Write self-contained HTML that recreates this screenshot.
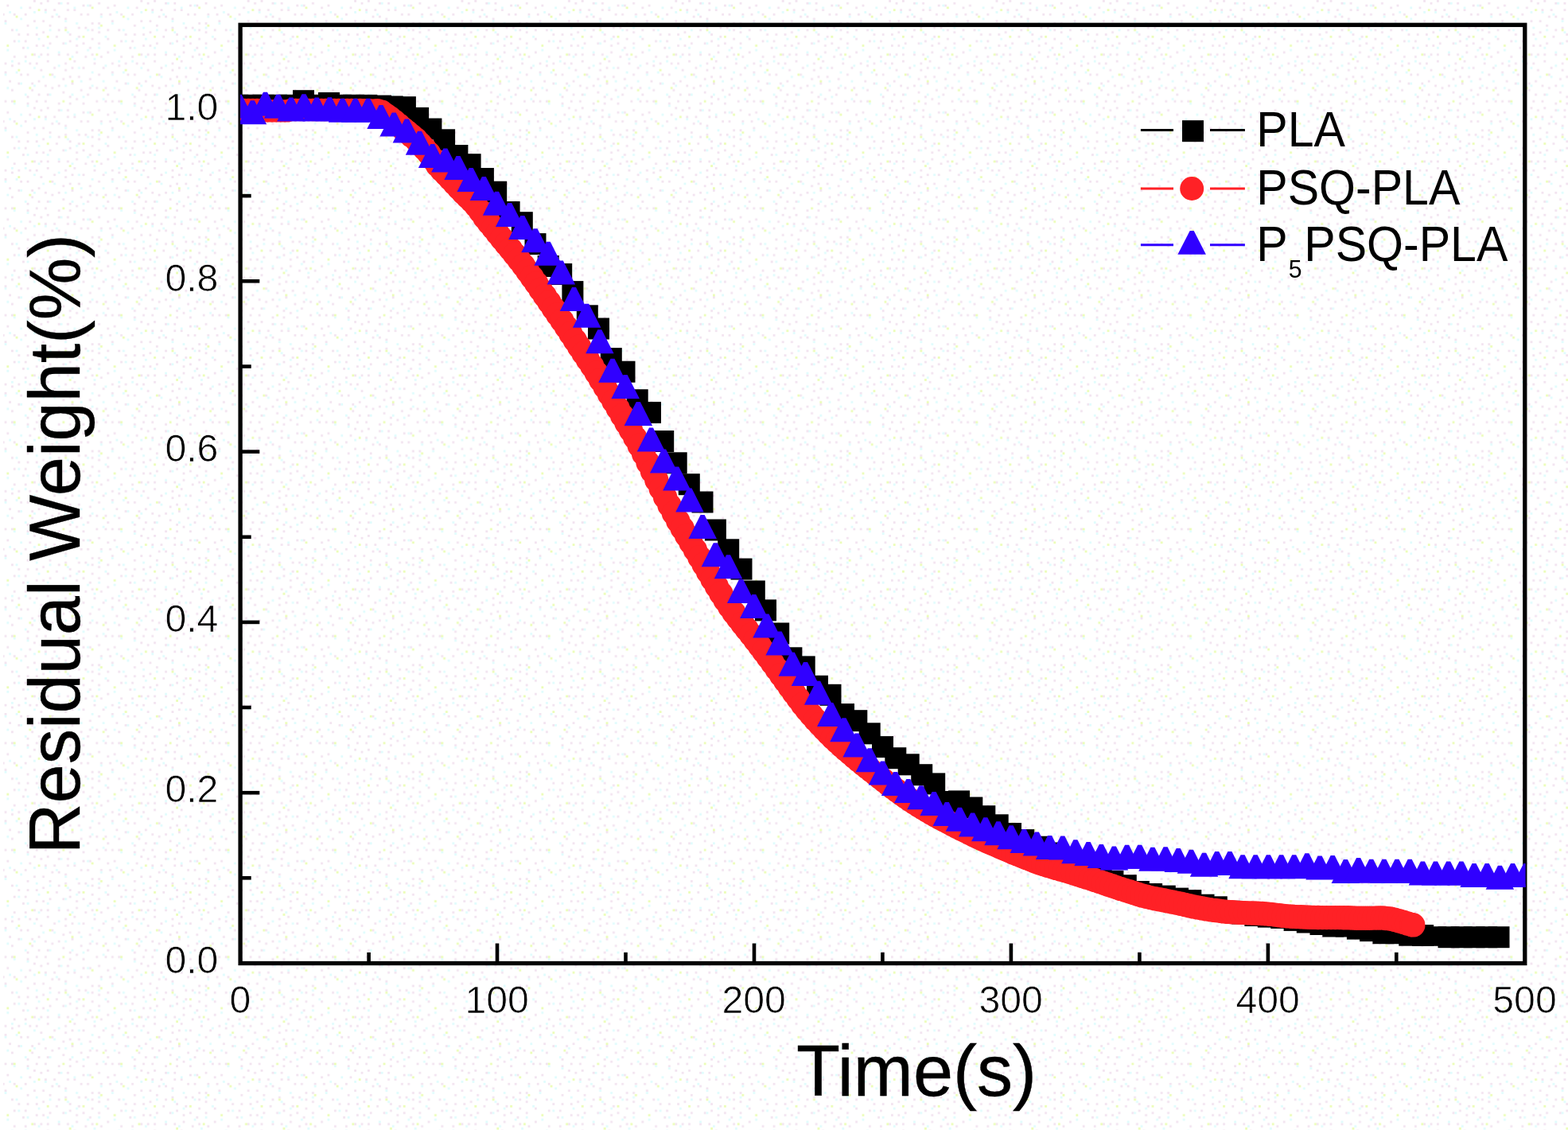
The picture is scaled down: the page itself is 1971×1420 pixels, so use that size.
<!DOCTYPE html>
<html lang="en"><head><meta charset="utf-8"><title>Residual Weight vs Time</title>
<style>
html,body{margin:0;padding:0;background:#ffffff;}
body{width:1971px;height:1420px;overflow:hidden;}
svg{display:block;}
text{font-family:"Liberation Sans",sans-serif;fill:#000;}
.tk{font-size:47.5px;stroke:#fff;stroke-width:0.7px;paint-order:fill stroke;}
.ax{font-size:91.5px;stroke:#000;stroke-width:0.4px;}
.lg{font-size:62.5px;}
</style></head><body>
<svg width="1971" height="1420" viewBox="0 0 1971 1420" role="img" aria-label="Residual weight versus time chart">
<defs>
<clipPath id="plot"><rect x="302.1" y="31.3" width="1615.5" height="1179.2"/></clipPath>
<pattern id="dith" width="134.4" height="134.4" patternUnits="userSpaceOnUse">
<rect x="78.4" y="98.0" width="2.8" height="2.8" fill="#f2e3f0"/>
<rect x="81.2" y="78.4" width="2.8" height="2.8" fill="#f2e3f0"/>
<rect x="89.6" y="103.6" width="2.8" height="2.8" fill="#f2e3f0"/>
<rect x="33.6" y="30.8" width="2.8" height="2.8" fill="#f2e3f0"/>
<rect x="89.6" y="84.0" width="2.8" height="2.8" fill="#f2e3f0"/>
<rect x="112.0" y="109.2" width="2.8" height="2.8" fill="#f2e3f0"/>
<rect x="30.8" y="16.8" width="2.8" height="2.8" fill="#f2e3f0"/>
<rect x="78.4" y="53.2" width="2.8" height="2.8" fill="#f2e3f0"/>
<rect x="95.2" y="123.2" width="2.8" height="2.8" fill="#f2e3f0"/>
<rect x="112.0" y="5.6" width="2.8" height="2.8" fill="#f2e3f0"/>
<rect x="106.4" y="70.0" width="2.8" height="2.8" fill="#f2e3f0"/>
<rect x="78.4" y="114.8" width="2.8" height="2.8" fill="#f2e3f0"/>
<rect x="131.6" y="109.2" width="2.8" height="2.8" fill="#f2e3f0"/>
<rect x="114.8" y="28.0" width="2.8" height="2.8" fill="#f2e3f0"/>
<rect x="92.4" y="11.2" width="2.8" height="2.8" fill="#f2e3f0"/>
<rect x="8.4" y="5.6" width="2.8" height="2.8" fill="#f2e3f0"/>
<rect x="33.6" y="42.0" width="2.8" height="2.8" fill="#f2e3f0"/>
<rect x="33.6" y="92.4" width="2.8" height="2.8" fill="#f2e3f0"/>
<rect x="39.2" y="112.0" width="2.8" height="2.8" fill="#f2e3f0"/>
<rect x="50.4" y="86.8" width="2.8" height="2.8" fill="#f2e3f0"/>
<rect x="0.0" y="117.6" width="2.8" height="2.8" fill="#f2e3f0"/>
<rect x="14.0" y="81.2" width="2.8" height="2.8" fill="#f2e3f0"/>
<rect x="114.8" y="47.6" width="2.8" height="2.8" fill="#f2e3f0"/>
<rect x="14.0" y="126.0" width="2.8" height="2.8" fill="#f2e3f0"/>
<rect x="44.8" y="56.0" width="2.8" height="2.8" fill="#f2e3f0"/>
<rect x="50.4" y="2.8" width="2.8" height="2.8" fill="#f2e3f0"/>
<rect x="11.2" y="100.8" width="2.8" height="2.8" fill="#f2e3f0"/>
<rect x="16.8" y="70.0" width="2.8" height="2.8" fill="#f2e3f0"/>
<rect x="16.8" y="50.4" width="2.8" height="2.8" fill="#f2e3f0"/>
<rect x="67.2" y="11.2" width="2.8" height="2.8" fill="#f2e3f0"/>
<rect x="0.0" y="36.4" width="2.8" height="2.8" fill="#f2e3f0"/>
<rect x="36.4" y="8.4" width="2.8" height="2.8" fill="#f2e3f0"/>
<rect x="84.0" y="67.2" width="2.8" height="2.8" fill="#f2e3f0"/>
<rect x="126.0" y="70.0" width="2.8" height="2.8" fill="#f2e3f0"/>
<rect x="100.8" y="112.0" width="2.8" height="2.8" fill="#f2e3f0"/>
<rect x="33.6" y="120.4" width="2.8" height="2.8" fill="#f2e3f0"/>
<rect x="58.8" y="0.0" width="2.8" height="2.8" fill="#f2e3f0"/>
<rect x="72.8" y="19.6" width="2.8" height="2.8" fill="#f2e3f0"/>
<rect x="22.4" y="42.0" width="2.8" height="2.8" fill="#f2e3f0"/>
<rect x="126.0" y="16.8" width="2.8" height="2.8" fill="#f2e3f0"/>
<rect x="0.0" y="8.4" width="2.8" height="2.8" fill="#f2e3f0"/>
<rect x="81.2" y="86.8" width="2.8" height="2.8" fill="#f2e3f0"/>
<rect x="98.0" y="33.6" width="2.8" height="2.8" fill="#f2e3f0"/>
<rect x="33.6" y="128.8" width="2.8" height="2.8" fill="#f2e3f0"/>
<rect x="114.8" y="67.2" width="2.8" height="2.8" fill="#f2e3f0"/>
<rect x="72.8" y="36.4" width="2.8" height="2.8" fill="#f2e3f0"/>
<rect x="0.0" y="47.6" width="2.8" height="2.8" fill="#f2e3f0"/>
<rect x="103.6" y="53.2" width="2.8" height="2.8" fill="#f2e3f0"/>
<rect x="30.8" y="70.0" width="2.8" height="2.8" fill="#f2e3f0"/>
<rect x="100.8" y="16.8" width="2.8" height="2.8" fill="#f2e3f0"/>
<rect x="5.6" y="25.2" width="2.8" height="2.8" fill="#f2e3f0"/>
<rect x="36.4" y="78.4" width="2.8" height="2.8" fill="#f2e3f0"/>
<rect x="50.4" y="67.2" width="2.8" height="2.8" fill="#f2e3f0"/>
<rect x="14.0" y="36.4" width="2.8" height="2.8" fill="#f2e3f0"/>
<rect x="42.0" y="0.0" width="2.8" height="2.8" fill="#f2e3f0"/>
<rect x="64.4" y="109.2" width="2.8" height="2.8" fill="#f2e3f0"/>
<rect x="81.2" y="22.4" width="2.8" height="2.8" fill="#f2e3f0"/>
<rect x="103.6" y="84.0" width="2.8" height="2.8" fill="#f2e3f0"/>
<rect x="53.2" y="39.2" width="2.8" height="2.8" fill="#f2e3f0"/>
<rect x="112.0" y="98.0" width="2.8" height="2.8" fill="#f2e3f0"/>
<rect x="67.2" y="84.0" width="2.8" height="2.8" fill="#f2e3f0"/>
<rect x="16.8" y="16.8" width="2.8" height="2.8" fill="#f2e3f0"/>
<rect x="5.6" y="89.6" width="2.8" height="2.8" fill="#f2e3f0"/>
<rect x="44.8" y="42.0" width="2.8" height="2.8" fill="#f2e3f0"/>
<rect x="131.6" y="126.0" width="2.8" height="2.8" fill="#f2e3f0"/>
<rect x="70.0" y="44.8" width="2.8" height="2.8" fill="#f2e3f0"/>
<rect x="72.8" y="106.4" width="2.8" height="2.8" fill="#f2e3f0"/>
<rect x="86.8" y="50.4" width="2.8" height="2.8" fill="#f2e3f0"/>
<rect x="30.8" y="50.4" width="2.8" height="2.8" fill="#f2e3f0"/>
<rect x="64.4" y="92.4" width="2.8" height="2.8" fill="#f2e3f0"/>
<rect x="22.4" y="78.4" width="2.8" height="2.8" fill="#f2e3f0"/>
<rect x="58.8" y="117.6" width="2.8" height="2.8" fill="#f2e3f0"/>
<rect x="22.4" y="103.6" width="2.8" height="2.8" fill="#f2e3f0"/>
<rect x="123.2" y="53.2" width="2.8" height="2.8" fill="#f2e3f0"/>
<rect x="53.2" y="56.0" width="2.8" height="2.8" fill="#f2e3f0"/>
<rect x="95.2" y="64.4" width="2.8" height="2.8" fill="#f2e3f0"/>
<rect x="84.0" y="11.2" width="2.8" height="2.8" fill="#f2e3f0"/>
<rect x="72.8" y="2.8" width="2.8" height="2.8" fill="#f2e3f0"/>
<rect x="14.0" y="112.0" width="2.8" height="2.8" fill="#f2e3f0"/>
<rect x="72.8" y="128.8" width="2.8" height="2.8" fill="#f2e3f0"/>
<rect x="58.8" y="67.2" width="2.8" height="2.8" fill="#f2e3f0"/>
<rect x="84.0" y="2.8" width="2.8" height="2.8" fill="#f2e3f0"/>
<rect x="109.2" y="117.6" width="2.8" height="2.8" fill="#f2e3f0"/>
<rect x="0.0" y="64.4" width="2.8" height="2.8" fill="#f2e3f0"/>
<rect x="53.2" y="25.2" width="2.8" height="2.8" fill="#f2e3f0"/>
<rect x="120.4" y="109.2" width="2.8" height="2.8" fill="#f2e3f0"/>
<rect x="28.0" y="58.8" width="2.8" height="2.8" fill="#f2e3f0"/>
<rect x="117.6" y="78.4" width="2.8" height="2.8" fill="#f2e3f0"/>
<rect x="86.8" y="42.0" width="2.8" height="2.8" fill="#f2e3f0"/>
<rect x="39.2" y="103.6" width="2.8" height="2.8" fill="#f2e3f0"/>
<rect x="5.6" y="126.0" width="2.8" height="2.8" fill="#f2e3f0"/>
<rect x="72.8" y="67.2" width="2.8" height="2.8" fill="#f2e3f0"/>
<rect x="86.8" y="120.4" width="2.8" height="2.8" fill="#f2e3f0"/>
<rect x="56.0" y="126.0" width="2.8" height="2.8" fill="#f2e3f0"/>
<rect x="56.0" y="11.2" width="2.8" height="2.8" fill="#f2e3f0"/>
<rect x="120.4" y="126.0" width="2.8" height="2.8" fill="#f2e3f0"/>
<rect x="47.6" y="100.8" width="2.8" height="2.8" fill="#f2e3f0"/>
<rect x="61.6" y="53.2" width="2.8" height="2.8" fill="#f2e3f0"/>
<rect x="81.2" y="33.6" width="2.8" height="2.8" fill="#f2e3f0"/>
<rect x="42.0" y="25.2" width="2.8" height="2.8" fill="#f2e3f0"/>
<rect x="123.2" y="92.4" width="2.8" height="2.8" fill="#f2e3f0"/>
<rect x="123.2" y="39.2" width="2.8" height="2.8" fill="#f2e3f0"/>
<rect x="114.8" y="36.4" width="2.8" height="2.8" fill="#f2e3f0"/>
<rect x="42.0" y="67.2" width="2.8" height="2.8" fill="#f2e3f0"/>
<rect x="95.2" y="56.0" width="2.8" height="2.8" fill="#f2e3f0"/>
<rect x="44.8" y="126.0" width="2.8" height="2.8" fill="#f2e3f0"/>
<rect x="5.6" y="78.4" width="2.8" height="2.8" fill="#f2e3f0"/>
<rect x="25.2" y="92.4" width="2.8" height="2.8" fill="#f2e3f0"/>
<rect x="98.0" y="44.8" width="2.8" height="2.8" fill="#f2e3f0"/>
<rect x="123.2" y="28.0" width="2.8" height="2.8" fill="#f2e3f0"/>
<rect x="58.8" y="75.6" width="2.8" height="2.8" fill="#f2e3f0"/>
<rect x="123.2" y="2.8" width="2.8" height="2.8" fill="#f2e3f0"/>
<rect x="86.8" y="128.8" width="2.8" height="2.8" fill="#f2e3f0"/>
<rect x="92.4" y="75.6" width="2.8" height="2.8" fill="#f2e3f0"/>
<rect x="61.6" y="30.8" width="2.8" height="2.8" fill="#f2e3f0"/>
<rect x="56.0" y="106.4" width="2.8" height="2.8" fill="#f2e3f0"/>
<rect x="2.8" y="16.8" width="2.8" height="2.8" fill="#f2e3f0"/>
<rect x="64.4" y="19.6" width="2.8" height="2.8" fill="#f2e3f0"/>
<rect x="112.0" y="58.8" width="2.8" height="2.8" fill="#f2e3f0"/>
<rect x="106.4" y="33.6" width="2.8" height="2.8" fill="#f2e3f0"/>
<rect x="47.6" y="117.6" width="2.8" height="2.8" fill="#f2e3f0"/>
<rect x="109.2" y="16.8" width="2.8" height="2.8" fill="#f2e3f0"/>
<rect x="44.8" y="78.4" width="2.8" height="2.8" fill="#f2e3f0"/>
<rect x="98.0" y="95.2" width="2.8" height="2.8" fill="#f2e3f0"/>
<rect x="86.8" y="95.2" width="2.8" height="2.8" fill="#f2e3f0"/>
<rect x="103.6" y="5.6" width="2.8" height="2.8" fill="#f2e3f0"/>
<rect x="103.6" y="128.8" width="2.8" height="2.8" fill="#f2e3f0"/>
<rect x="128.8" y="84.0" width="2.8" height="2.8" fill="#f2e3f0"/>
<rect x="5.6" y="92.4" width="2.8" height="2.8" fill="#e0fcfd"/>
<rect x="16.8" y="128.8" width="2.8" height="2.8" fill="#e0fcfd"/>
<rect x="81.2" y="25.2" width="2.8" height="2.8" fill="#e0fcfd"/>
<rect x="42.0" y="106.4" width="2.8" height="2.8" fill="#e0fcfd"/>
<rect x="126.0" y="19.6" width="2.8" height="2.8" fill="#e0fcfd"/>
<rect x="8.4" y="109.2" width="2.8" height="2.8" fill="#e0fcfd"/>
<rect x="72.8" y="81.2" width="2.8" height="2.8" fill="#e0fcfd"/>
<rect x="19.6" y="36.4" width="2.8" height="2.8" fill="#e0fcfd"/>
<rect x="8.4" y="61.6" width="2.8" height="2.8" fill="#e0fcfd"/>
<rect x="117.6" y="72.8" width="2.8" height="2.8" fill="#e0fcfd"/>
<rect x="81.2" y="106.4" width="2.8" height="2.8" fill="#e0fcfd"/>
<rect x="103.6" y="120.4" width="2.8" height="2.8" fill="#e0fcfd"/>
<rect x="72.8" y="64.4" width="2.8" height="2.8" fill="#e0fcfd"/>
<rect x="22.4" y="50.4" width="2.8" height="2.8" fill="#e0fcfd"/>
<rect x="42.0" y="84.0" width="2.8" height="2.8" fill="#e0fcfd"/>
<rect x="19.6" y="89.6" width="2.8" height="2.8" fill="#e0fcfd"/>
<rect x="109.2" y="61.6" width="2.8" height="2.8" fill="#e0fcfd"/>
<rect x="47.6" y="47.6" width="2.8" height="2.8" fill="#e0fcfd"/>
<rect x="128.8" y="100.8" width="2.8" height="2.8" fill="#e0fcfd"/>
<rect x="75.6" y="2.8" width="2.8" height="2.8" fill="#e0fcfd"/>
<rect x="109.2" y="5.6" width="2.8" height="2.8" fill="#e0fcfd"/>
<rect x="95.2" y="47.6" width="2.8" height="2.8" fill="#e0fcfd"/>
<rect x="11.2" y="14.0" width="2.8" height="2.8" fill="#e0fcfd"/>
<rect x="61.6" y="36.4" width="2.8" height="2.8" fill="#e0fcfd"/>
<rect x="58.8" y="58.8" width="2.8" height="2.8" fill="#e0fcfd"/>
<rect x="109.2" y="36.4" width="2.8" height="2.8" fill="#e0fcfd"/>
<rect x="131.6" y="44.8" width="2.8" height="2.8" fill="#e0fcfd"/>
<rect x="114.8" y="106.4" width="2.8" height="2.8" fill="#e0fcfd"/>
<rect x="30.8" y="75.6" width="2.8" height="2.8" fill="#e0fcfd"/>
<rect x="14.0" y="75.6" width="2.8" height="2.8" fill="#e0fcfd"/>
<rect x="100.8" y="100.8" width="2.8" height="2.8" fill="#e0fcfd"/>
<rect x="81.2" y="53.2" width="2.8" height="2.8" fill="#e0fcfd"/>
<rect x="128.8" y="123.2" width="2.8" height="2.8" fill="#e0fcfd"/>
<rect x="61.6" y="117.6" width="2.8" height="2.8" fill="#e0fcfd"/>
<rect x="42.0" y="14.0" width="2.8" height="2.8" fill="#e0fcfd"/>
<rect x="33.6" y="131.6" width="2.8" height="2.8" fill="#e0fcfd"/>
<rect x="67.2" y="95.2" width="2.8" height="2.8" fill="#e0fcfd"/>
<rect x="25.2" y="103.6" width="2.8" height="2.8" fill="#e0fcfd"/>
<rect x="92.4" y="8.4" width="2.8" height="2.8" fill="#e0fcfd"/>
<rect x="95.2" y="28.0" width="2.8" height="2.8" fill="#e0fcfd"/>
<rect x="53.2" y="95.2" width="2.8" height="2.8" fill="#e0fcfd"/>
<rect x="56.0" y="14.0" width="2.8" height="2.8" fill="#e0fcfd"/>
<rect x="47.6" y="70.0" width="2.8" height="2.8" fill="#e0fcfd"/>
<rect x="98.0" y="84.0" width="2.8" height="2.8" fill="#e0fcfd"/>
<rect x="25.2" y="22.4" width="2.8" height="2.8" fill="#e0fcfd"/>
<rect x="44.8" y="33.6" width="2.8" height="2.8" fill="#e0fcfd"/>
<rect x="5.6" y="28.0" width="2.8" height="2.8" fill="#e0fcfd"/>
<rect x="33.6" y="58.8" width="2.8" height="2.8" fill="#e0fcfd"/>
<rect x="123.2" y="58.8" width="2.8" height="2.8" fill="#e0fcfd"/>
<rect x="30.8" y="117.6" width="2.8" height="2.8" fill="#e0fcfd"/>
<rect x="89.6" y="70.0" width="2.8" height="2.8" fill="#e0fcfd"/>
<rect x="123.2" y="33.6" width="2.8" height="2.8" fill="#e0fcfd"/>
<rect x="89.6" y="117.6" width="2.8" height="2.8" fill="#e0fcfd"/>
<rect x="25.2" y="8.4" width="2.8" height="2.8" fill="#e0fcfd"/>
<rect x="114.8" y="89.6" width="2.8" height="2.8" fill="#e0fcfd"/>
<rect x="131.6" y="81.2" width="2.8" height="2.8" fill="#e0fcfd"/>
<rect x="70.0" y="16.8" width="2.8" height="2.8" fill="#e0fcfd"/>
<rect x="84.0" y="39.2" width="2.8" height="2.8" fill="#e0fcfd"/>
<rect x="86.8" y="72.8" width="2.8" height="2.8" fill="#ebfdb6"/>
<rect x="126.0" y="30.8" width="2.8" height="2.8" fill="#ebfdb6"/>
<rect x="47.6" y="11.2" width="2.8" height="2.8" fill="#ebfdb6"/>
<rect x="120.4" y="67.2" width="2.8" height="2.8" fill="#ebfdb6"/>
<rect x="61.6" y="92.4" width="2.8" height="2.8" fill="#ebfdb6"/>
<rect x="128.8" y="112.0" width="2.8" height="2.8" fill="#ebfdb6"/>
<rect x="114.8" y="8.4" width="2.8" height="2.8" fill="#ebfdb6"/>
<rect x="36.4" y="109.2" width="2.8" height="2.8" fill="#ebfdb6"/>
<rect x="78.4" y="126.0" width="2.8" height="2.8" fill="#ebfdb6"/>
<rect x="89.6" y="100.8" width="2.8" height="2.8" fill="#ebfdb6"/>
<rect x="19.6" y="19.6" width="2.8" height="2.8" fill="#ebfdb6"/>
<rect x="39.2" y="67.2" width="2.8" height="2.8" fill="#ebfdb6"/>
<rect x="8.4" y="56.0" width="2.8" height="2.8" fill="#ebfdb6"/>
<rect x="22.4" y="86.8" width="2.8" height="2.8" fill="#ebfdb6"/>
<rect x="58.8" y="44.8" width="2.8" height="2.8" fill="#ebfdb6"/>
<rect x="81.2" y="36.4" width="2.8" height="2.8" fill="#ebfdb6"/>
<rect x="103.6" y="44.8" width="2.8" height="2.8" fill="#ebfdb6"/>
<rect x="16.8" y="126.0" width="2.8" height="2.8" fill="#ebfdb6"/>
</pattern>
</defs>
<rect x="0" y="0" width="1971" height="1420" fill="#ffffff"/>
<rect x="4" y="0" width="1967" height="1420" fill="url(#dith)"/>
<rect id="frame" x="302.1" y="31.3" width="1614.7" height="1179.2" fill="none" stroke="#000" stroke-width="5.3"/>
<g id="ticks" stroke="#000" stroke-width="4.6">
<line x1="463.6" y1="1210.5" x2="463.6" y2="1196.8"/>
<line x1="625.0" y1="1210.5" x2="625.0" y2="1185.5"/>
<line x1="786.5" y1="1210.5" x2="786.5" y2="1196.8"/>
<line x1="948.0" y1="1210.5" x2="948.0" y2="1185.5"/>
<line x1="1109.4" y1="1210.5" x2="1109.4" y2="1196.8"/>
<line x1="1270.9" y1="1210.5" x2="1270.9" y2="1185.5"/>
<line x1="1432.4" y1="1210.5" x2="1432.4" y2="1196.8"/>
<line x1="1593.9" y1="1210.5" x2="1593.9" y2="1185.5"/>
<line x1="1755.3" y1="1210.5" x2="1755.3" y2="1196.8"/>
<line x1="302.1" y1="1103.3" x2="315.7" y2="1103.3"/>
<line x1="302.1" y1="996.2" x2="326.3" y2="996.2"/>
<line x1="302.1" y1="889.0" x2="315.7" y2="889.0"/>
<line x1="302.1" y1="781.9" x2="326.3" y2="781.9"/>
<line x1="302.1" y1="674.8" x2="315.7" y2="674.8"/>
<line x1="302.1" y1="567.6" x2="326.3" y2="567.6"/>
<line x1="302.1" y1="460.5" x2="315.7" y2="460.5"/>
<line x1="302.1" y1="353.3" x2="326.3" y2="353.3"/>
<line x1="302.1" y1="246.1" x2="315.7" y2="246.1"/>
<line x1="302.1" y1="139.0" x2="326.3" y2="139.0"/>
</g>
<g id="series" clip-path="url(#plot)">
<g id="s-black" fill="#000">
<rect x="285.3" y="118.8" width="27" height="27.0"/>
<rect x="301.5" y="118.8" width="27" height="27.0"/>
<rect x="317.7" y="118.8" width="27" height="27.0"/>
<rect x="333.9" y="118.8" width="27" height="27.0"/>
<rect x="350.1" y="118.8" width="27" height="27.0"/>
<rect x="368.0" y="113.2" width="27" height="27.0"/>
<rect x="382.5" y="118.8" width="27" height="27.0"/>
<rect x="400.0" y="116.0" width="27" height="27.0"/>
<rect x="414.9" y="118.8" width="27" height="27.0"/>
<rect x="431.1" y="118.8" width="27" height="27.0"/>
<rect x="447.3" y="118.9" width="27" height="27.0"/>
<rect x="465.0" y="119.6" width="27" height="27.0"/>
<rect x="479.7" y="120.5" width="27" height="27.0"/>
<rect x="495.9" y="121.2" width="27" height="27.0"/>
<rect x="512.1" y="134.9" width="27" height="27.0"/>
<rect x="528.4" y="148.6" width="27" height="27.0"/>
<rect x="545.1" y="162.3" width="27" height="27.0"/>
<rect x="561.4" y="182.0" width="27" height="27.0"/>
<rect x="577.6" y="193.2" width="27" height="27.0"/>
<rect x="593.9" y="211.0" width="27" height="27.0"/>
<rect x="610.2" y="227.7" width="27" height="27.0"/>
<rect x="626.6" y="253.0" width="27" height="27.0"/>
<rect x="642.8" y="266.2" width="27" height="27.0"/>
<rect x="659.5" y="293.1" width="27" height="27.0"/>
<rect x="675.7" y="321.0" width="27" height="27.0"/>
<rect x="692.2" y="331.0" width="27" height="27.0"/>
<rect x="706.4" y="353.1" width="27" height="27.0"/>
<rect x="724.8" y="383.3" width="27" height="27.0"/>
<rect x="739.0" y="399.5" width="27" height="27.0"/>
<rect x="754.8" y="437.1" width="27" height="27.0"/>
<rect x="771.5" y="453.7" width="27" height="27.0"/>
<rect x="787.7" y="489.2" width="27" height="27.0"/>
<rect x="804.0" y="504.9" width="27" height="27.0"/>
<rect x="820.2" y="541.0" width="27" height="27.0"/>
<rect x="836.7" y="568.3" width="27" height="27.0"/>
<rect x="852.8" y="595.2" width="27" height="27.0"/>
<rect x="869.5" y="617.5" width="27" height="27.0"/>
<rect x="885.9" y="652.5" width="27" height="27.0"/>
<rect x="902.2" y="677.3" width="27" height="27.0"/>
<rect x="918.5" y="701.6" width="27" height="27.0"/>
<rect x="934.8" y="729.5" width="27" height="27.0"/>
<rect x="949.0" y="753.4" width="27" height="27.0"/>
<rect x="965.2" y="782.5" width="27" height="27.0"/>
<rect x="981.4" y="813.3" width="27" height="27.0"/>
<rect x="997.7" y="824.4" width="27" height="27.0"/>
<rect x="1014.0" y="848.8" width="27" height="27.0"/>
<rect x="1030.5" y="859.8" width="27" height="27.0"/>
<rect x="1047.0" y="884.1" width="27" height="27.0"/>
<rect x="1063.3" y="892.2" width="27" height="27.0"/>
<rect x="1079.7" y="908.3" width="27" height="27.0"/>
<rect x="1096.0" y="925.1" width="27" height="27.0"/>
<rect x="1112.3" y="939.2" width="27" height="27.0"/>
<rect x="1128.7" y="947.3" width="27" height="27.0"/>
<rect x="1145.2" y="960.2" width="27" height="27.0"/>
<rect x="1161.2" y="971.4" width="27" height="27.0"/>
<rect x="1177.0" y="994.0" width="27" height="27.0"/>
<rect x="1192.0" y="993.4" width="27" height="27.0"/>
<rect x="1208.3" y="1001.5" width="27" height="27.0"/>
<rect x="1224.3" y="1012.2" width="27" height="27.0"/>
<rect x="1240.7" y="1023.3" width="27" height="27.0"/>
<rect x="1257.0" y="1034.0" width="27" height="27.0"/>
<rect x="1273.2" y="1042.1" width="27" height="27.0"/>
<rect x="1290.0" y="1050.7" width="27" height="27.0"/>
<rect x="1306.0" y="1058.5" width="27" height="27.0"/>
<rect x="1322.2" y="1066.0" width="27" height="27.0"/>
<rect x="1338.4" y="1073.0" width="27" height="27.0"/>
<rect x="1354.5" y="1080.0" width="27" height="27.0"/>
<rect x="1370.7" y="1087.0" width="27" height="27.0"/>
<rect x="1385.4" y="1093.9" width="27" height="27.0"/>
<rect x="1401.8" y="1099.2" width="27" height="27.0"/>
<rect x="1417.9" y="1107.0" width="27" height="27.0"/>
<rect x="1434.1" y="1110.0" width="27" height="27.0"/>
<rect x="1450.8" y="1112.6" width="27" height="27.0"/>
<rect x="1467.1" y="1115.6" width="27" height="27.0"/>
<rect x="1483.3" y="1118.1" width="27" height="27.0"/>
<rect x="1499.5" y="1123.7" width="27" height="27.0"/>
<rect x="1515.8" y="1126.3" width="27" height="27.0"/>
<rect x="1532.0" y="1131.8" width="27" height="27.0"/>
<rect x="1548.2" y="1134.5" width="27" height="27.0"/>
<rect x="1564.4" y="1137.0" width="27" height="27.0"/>
<rect x="1580.8" y="1138.6" width="27" height="27.0"/>
<rect x="1597.2" y="1139.9" width="27" height="27.0"/>
<rect x="1613.6" y="1142.9" width="27" height="27.0"/>
<rect x="1629.8" y="1145.5" width="27" height="27.0"/>
<rect x="1646.5" y="1148.0" width="27" height="27.0"/>
<rect x="1662.3" y="1150.5" width="27" height="27.0"/>
<rect x="1678.7" y="1150.5" width="27" height="27.0"/>
<rect x="1692.9" y="1153.6" width="27" height="27.0"/>
<rect x="1709.1" y="1156.1" width="27" height="27.0"/>
<rect x="1725.4" y="1159.2" width="27" height="27.0"/>
<rect x="1741.4" y="1159.2" width="27" height="27.0"/>
<rect x="1758.3" y="1161.7" width="27" height="27.0"/>
<rect x="1775.1" y="1162.0" width="27" height="27.0"/>
<rect x="1791.3" y="1164.2" width="27" height="24.6"/>
<rect x="1807.5" y="1164.2" width="27" height="27.0"/>
<rect x="1823.7" y="1164.2" width="27" height="27.0"/>
<rect x="1839.6" y="1164.2" width="27" height="27.0"/>
<rect x="1855.2" y="1164.2" width="27" height="27.0"/>
<rect x="1870.5" y="1164.2" width="27" height="27.0"/>
</g>
<g id="s-red" fill="#ff2126">
<circle cx="301.5" cy="138.0" r="14.2"/>
<circle cx="306.9" cy="138.0" r="14.2"/>
<circle cx="312.3" cy="138.0" r="14.2"/>
<circle cx="317.7" cy="138.0" r="14.2"/>
<circle cx="323.1" cy="138.0" r="14.2"/>
<circle cx="328.5" cy="138.0" r="14.2"/>
<circle cx="333.9" cy="139.4" r="14.2"/>
<circle cx="339.3" cy="139.4" r="14.2"/>
<circle cx="344.7" cy="139.4" r="14.2"/>
<circle cx="350.1" cy="139.4" r="14.2"/>
<circle cx="355.5" cy="139.4" r="14.2"/>
<circle cx="360.9" cy="139.4" r="14.2"/>
<circle cx="366.3" cy="138.0" r="14.2"/>
<circle cx="371.7" cy="138.0" r="14.2"/>
<circle cx="377.1" cy="138.0" r="14.2"/>
<circle cx="382.5" cy="138.0" r="14.2"/>
<circle cx="387.9" cy="138.0" r="14.2"/>
<circle cx="393.3" cy="138.0" r="14.2"/>
<circle cx="398.7" cy="138.0" r="14.2"/>
<circle cx="404.1" cy="138.0" r="14.2"/>
<circle cx="409.5" cy="138.0" r="14.2"/>
<circle cx="414.9" cy="138.0" r="14.2"/>
<circle cx="420.3" cy="138.0" r="14.2"/>
<circle cx="425.7" cy="138.0" r="14.2"/>
<circle cx="431.1" cy="138.0" r="14.2"/>
<circle cx="436.5" cy="138.0" r="14.2"/>
<circle cx="441.9" cy="138.0" r="14.2"/>
<circle cx="447.3" cy="138.0" r="14.2"/>
<circle cx="452.7" cy="138.0" r="14.2"/>
<circle cx="458.1" cy="138.2" r="14.2"/>
<circle cx="463.5" cy="138.3" r="14.2"/>
<circle cx="468.9" cy="138.7" r="14.2"/>
<circle cx="474.3" cy="139.1" r="15.2"/>
<circle cx="479.7" cy="140.7" r="15.2"/>
<circle cx="485.1" cy="144.6" r="15.2"/>
<circle cx="490.5" cy="148.5" r="15.2"/>
<circle cx="495.9" cy="152.8" r="15.2"/>
<circle cx="501.3" cy="157.3" r="15.2"/>
<circle cx="506.7" cy="161.8" r="15.2"/>
<circle cx="512.1" cy="166.3" r="15.2"/>
<circle cx="517.5" cy="170.7" r="15.2"/>
<circle cx="522.9" cy="175.2" r="15.2"/>
<circle cx="528.3" cy="180.9" r="15.2"/>
<circle cx="533.7" cy="186.8" r="15.2"/>
<circle cx="539.1" cy="192.8" r="15.2"/>
<circle cx="544.5" cy="200.1" r="15.2"/>
<circle cx="549.9" cy="207.4" r="15.2"/>
<circle cx="555.3" cy="213.4" r="15.2"/>
<circle cx="560.7" cy="219.1" r="15.2"/>
<circle cx="566.1" cy="224.7" r="15.2"/>
<circle cx="571.5" cy="230.4" r="15.2"/>
<circle cx="576.9" cy="236.2" r="15.2"/>
<circle cx="582.3" cy="242.0" r="15.2"/>
<circle cx="587.7" cy="247.2" r="15.2"/>
<circle cx="593.1" cy="252.6" r="15.2"/>
<circle cx="598.5" cy="258.6" r="15.2"/>
<circle cx="603.9" cy="265.6" r="15.2"/>
<circle cx="609.3" cy="273.3" r="15.2"/>
<circle cx="614.7" cy="280.0" r="15.2"/>
<circle cx="620.1" cy="286.6" r="15.2"/>
<circle cx="625.5" cy="293.3" r="15.2"/>
<circle cx="630.9" cy="299.9" r="15.2"/>
<circle cx="636.3" cy="306.5" r="15.2"/>
<circle cx="641.7" cy="313.1" r="15.2"/>
<circle cx="647.1" cy="319.8" r="15.2"/>
<circle cx="652.5" cy="326.6" r="15.2"/>
<circle cx="657.9" cy="333.6" r="15.2"/>
<circle cx="663.3" cy="340.9" r="15.2"/>
<circle cx="668.7" cy="348.4" r="15.2"/>
<circle cx="674.1" cy="356.1" r="15.2"/>
<circle cx="679.5" cy="364.0" r="15.2"/>
<circle cx="684.9" cy="371.8" r="15.2"/>
<circle cx="690.3" cy="379.6" r="15.2"/>
<circle cx="695.7" cy="387.4" r="15.2"/>
<circle cx="701.1" cy="395.2" r="15.2"/>
<circle cx="706.5" cy="403.1" r="15.2"/>
<circle cx="711.9" cy="411.1" r="15.2"/>
<circle cx="717.3" cy="419.3" r="15.2"/>
<circle cx="722.7" cy="427.6" r="15.2"/>
<circle cx="728.1" cy="435.8" r="15.2"/>
<circle cx="733.5" cy="443.9" r="15.2"/>
<circle cx="738.9" cy="452.0" r="15.2"/>
<circle cx="744.3" cy="460.1" r="15.2"/>
<circle cx="749.7" cy="468.6" r="15.2"/>
<circle cx="755.1" cy="477.4" r="15.2"/>
<circle cx="760.5" cy="486.3" r="15.2"/>
<circle cx="765.9" cy="495.3" r="15.2"/>
<circle cx="771.3" cy="504.3" r="15.2"/>
<circle cx="776.7" cy="513.3" r="15.2"/>
<circle cx="782.1" cy="522.3" r="15.2"/>
<circle cx="787.5" cy="531.4" r="15.2"/>
<circle cx="792.9" cy="540.6" r="15.2"/>
<circle cx="798.3" cy="550.0" r="15.2"/>
<circle cx="803.7" cy="559.9" r="15.2"/>
<circle cx="809.1" cy="570.3" r="15.2"/>
<circle cx="814.5" cy="581.2" r="15.2"/>
<circle cx="819.9" cy="592.2" r="15.2"/>
<circle cx="825.3" cy="603.2" r="15.2"/>
<circle cx="830.7" cy="614.1" r="15.2"/>
<circle cx="836.1" cy="624.7" r="15.2"/>
<circle cx="841.5" cy="635.0" r="15.2"/>
<circle cx="846.9" cy="645.0" r="15.2"/>
<circle cx="852.3" cy="654.7" r="15.2"/>
<circle cx="857.7" cy="664.0" r="15.2"/>
<circle cx="863.1" cy="673.0" r="15.2"/>
<circle cx="868.5" cy="682.0" r="15.2"/>
<circle cx="873.9" cy="691.1" r="15.2"/>
<circle cx="879.3" cy="700.3" r="15.2"/>
<circle cx="884.7" cy="709.5" r="15.2"/>
<circle cx="890.1" cy="718.7" r="15.2"/>
<circle cx="895.5" cy="727.9" r="15.2"/>
<circle cx="900.9" cy="736.9" r="15.2"/>
<circle cx="906.3" cy="745.7" r="15.2"/>
<circle cx="911.7" cy="754.2" r="15.2"/>
<circle cx="917.1" cy="762.2" r="15.2"/>
<circle cx="922.5" cy="769.9" r="15.2"/>
<circle cx="927.9" cy="777.1" r="15.2"/>
<circle cx="933.3" cy="784.0" r="15.2"/>
<circle cx="938.7" cy="790.8" r="15.2"/>
<circle cx="944.1" cy="797.6" r="15.2"/>
<circle cx="949.5" cy="804.5" r="15.2"/>
<circle cx="954.9" cy="811.5" r="15.2"/>
<circle cx="960.3" cy="818.7" r="15.2"/>
<circle cx="965.7" cy="826.0" r="15.2"/>
<circle cx="971.1" cy="833.3" r="15.2"/>
<circle cx="976.5" cy="840.8" r="15.2"/>
<circle cx="981.9" cy="848.2" r="15.2"/>
<circle cx="987.3" cy="855.8" r="15.2"/>
<circle cx="992.7" cy="863.3" r="15.2"/>
<circle cx="998.1" cy="870.8" r="15.2"/>
<circle cx="1003.5" cy="878.1" r="15.2"/>
<circle cx="1008.9" cy="885.2" r="15.2"/>
<circle cx="1014.3" cy="891.9" r="15.2"/>
<circle cx="1019.7" cy="898.3" r="15.2"/>
<circle cx="1025.1" cy="904.4" r="15.2"/>
<circle cx="1030.5" cy="910.3" r="15.2"/>
<circle cx="1035.9" cy="916.1" r="15.2"/>
<circle cx="1041.3" cy="921.6" r="15.2"/>
<circle cx="1046.7" cy="926.9" r="15.2"/>
<circle cx="1052.1" cy="931.9" r="15.2"/>
<circle cx="1057.5" cy="936.9" r="15.2"/>
<circle cx="1062.9" cy="941.7" r="15.2"/>
<circle cx="1068.3" cy="946.3" r="15.2"/>
<circle cx="1073.7" cy="950.9" r="15.2"/>
<circle cx="1079.1" cy="955.5" r="15.2"/>
<circle cx="1084.5" cy="959.9" r="15.2"/>
<circle cx="1089.9" cy="964.3" r="15.2"/>
<circle cx="1095.3" cy="968.5" r="15.2"/>
<circle cx="1100.7" cy="972.8" r="15.2"/>
<circle cx="1106.1" cy="977.1" r="15.2"/>
<circle cx="1111.5" cy="981.3" r="15.2"/>
<circle cx="1116.9" cy="985.6" r="15.2"/>
<circle cx="1122.3" cy="989.7" r="15.2"/>
<circle cx="1127.7" cy="993.8" r="15.2"/>
<circle cx="1133.1" cy="997.7" r="15.2"/>
<circle cx="1138.5" cy="1001.6" r="15.2"/>
<circle cx="1143.9" cy="1005.3" r="15.2"/>
<circle cx="1149.3" cy="1008.8" r="15.2"/>
<circle cx="1154.7" cy="1012.3" r="15.2"/>
<circle cx="1160.1" cy="1015.6" r="15.2"/>
<circle cx="1165.5" cy="1018.8" r="15.2"/>
<circle cx="1170.9" cy="1021.9" r="15.2"/>
<circle cx="1176.3" cy="1024.9" r="15.2"/>
<circle cx="1181.7" cy="1027.9" r="15.2"/>
<circle cx="1187.1" cy="1030.8" r="15.2"/>
<circle cx="1192.5" cy="1033.6" r="15.2"/>
<circle cx="1197.9" cy="1036.4" r="15.2"/>
<circle cx="1203.3" cy="1039.2" r="15.2"/>
<circle cx="1208.7" cy="1041.9" r="15.2"/>
<circle cx="1214.1" cy="1044.6" r="15.2"/>
<circle cx="1219.5" cy="1047.3" r="15.2"/>
<circle cx="1224.9" cy="1050.0" r="15.2"/>
<circle cx="1230.3" cy="1052.5" r="15.2"/>
<circle cx="1235.7" cy="1055.0" r="15.2"/>
<circle cx="1241.1" cy="1057.4" r="15.2"/>
<circle cx="1246.5" cy="1059.7" r="15.2"/>
<circle cx="1251.9" cy="1062.1" r="15.2"/>
<circle cx="1257.3" cy="1064.5" r="15.2"/>
<circle cx="1262.7" cy="1066.8" r="15.2"/>
<circle cx="1268.1" cy="1069.1" r="15.2"/>
<circle cx="1273.5" cy="1071.4" r="15.2"/>
<circle cx="1278.9" cy="1073.6" r="15.2"/>
<circle cx="1284.3" cy="1075.8" r="15.2"/>
<circle cx="1289.7" cy="1077.9" r="15.2"/>
<circle cx="1295.1" cy="1080.1" r="15.2"/>
<circle cx="1300.5" cy="1082.2" r="15.2"/>
<circle cx="1305.9" cy="1084.2" r="15.2"/>
<circle cx="1311.3" cy="1086.0" r="15.2"/>
<circle cx="1316.7" cy="1087.7" r="15.2"/>
<circle cx="1322.1" cy="1089.3" r="15.2"/>
<circle cx="1327.5" cy="1090.9" r="15.2"/>
<circle cx="1332.9" cy="1092.4" r="15.2"/>
<circle cx="1338.3" cy="1094.0" r="15.2"/>
<circle cx="1343.7" cy="1095.6" r="15.2"/>
<circle cx="1349.1" cy="1097.3" r="15.2"/>
<circle cx="1354.5" cy="1099.0" r="15.2"/>
<circle cx="1359.9" cy="1100.7" r="15.2"/>
<circle cx="1365.3" cy="1102.4" r="15.2"/>
<circle cx="1370.7" cy="1104.1" r="15.2"/>
<circle cx="1376.1" cy="1105.9" r="15.2"/>
<circle cx="1381.5" cy="1107.7" r="15.2"/>
<circle cx="1386.9" cy="1109.6" r="15.2"/>
<circle cx="1392.3" cy="1111.5" r="15.2"/>
<circle cx="1397.7" cy="1113.3" r="15.2"/>
<circle cx="1403.1" cy="1115.1" r="15.2"/>
<circle cx="1408.5" cy="1116.9" r="15.2"/>
<circle cx="1413.9" cy="1118.6" r="15.2"/>
<circle cx="1419.3" cy="1120.3" r="15.2"/>
<circle cx="1424.7" cy="1122.0" r="15.2"/>
<circle cx="1430.1" cy="1123.8" r="15.2"/>
<circle cx="1435.5" cy="1125.4" r="15.2"/>
<circle cx="1440.9" cy="1126.8" r="15.2"/>
<circle cx="1446.3" cy="1128.1" r="15.2"/>
<circle cx="1451.7" cy="1129.2" r="15.2"/>
<circle cx="1457.1" cy="1130.2" r="15.2"/>
<circle cx="1462.5" cy="1131.3" r="15.2"/>
<circle cx="1467.9" cy="1132.4" r="15.2"/>
<circle cx="1473.3" cy="1133.5" r="15.2"/>
<circle cx="1478.7" cy="1134.6" r="15.2"/>
<circle cx="1484.1" cy="1135.8" r="15.2"/>
<circle cx="1489.5" cy="1137.0" r="15.2"/>
<circle cx="1494.9" cy="1138.2" r="15.2"/>
<circle cx="1500.3" cy="1139.4" r="15.2"/>
<circle cx="1505.7" cy="1140.4" r="15.2"/>
<circle cx="1511.1" cy="1141.4" r="15.2"/>
<circle cx="1516.5" cy="1142.4" r="15.2"/>
<circle cx="1521.9" cy="1143.2" r="15.2"/>
<circle cx="1527.3" cy="1144.0" r="15.2"/>
<circle cx="1532.7" cy="1144.7" r="15.2"/>
<circle cx="1538.1" cy="1145.4" r="15.2"/>
<circle cx="1543.5" cy="1145.9" r="15.2"/>
<circle cx="1548.9" cy="1146.3" r="15.2"/>
<circle cx="1554.3" cy="1146.6" r="15.2"/>
<circle cx="1559.7" cy="1146.9" r="15.2"/>
<circle cx="1565.1" cy="1147.1" r="15.2"/>
<circle cx="1570.5" cy="1147.4" r="15.2"/>
<circle cx="1575.9" cy="1147.5" r="15.2"/>
<circle cx="1581.3" cy="1147.7" r="15.2"/>
<circle cx="1586.7" cy="1148.0" r="15.2"/>
<circle cx="1592.1" cy="1148.4" r="15.2"/>
<circle cx="1597.5" cy="1148.9" r="15.2"/>
<circle cx="1602.9" cy="1149.6" r="15.2"/>
<circle cx="1608.3" cy="1150.3" r="15.2"/>
<circle cx="1613.7" cy="1150.9" r="15.2"/>
<circle cx="1619.1" cy="1151.4" r="15.2"/>
<circle cx="1624.5" cy="1151.8" r="15.2"/>
<circle cx="1629.9" cy="1152.1" r="15.2"/>
<circle cx="1635.3" cy="1152.3" r="15.2"/>
<circle cx="1640.7" cy="1152.5" r="15.2"/>
<circle cx="1646.1" cy="1152.7" r="15.2"/>
<circle cx="1651.5" cy="1152.9" r="15.2"/>
<circle cx="1656.9" cy="1153.0" r="15.2"/>
<circle cx="1662.3" cy="1153.1" r="15.2"/>
<circle cx="1667.7" cy="1153.1" r="15.2"/>
<circle cx="1673.1" cy="1153.1" r="15.2"/>
<circle cx="1678.5" cy="1153.1" r="15.2"/>
<circle cx="1683.9" cy="1153.1" r="15.2"/>
<circle cx="1689.3" cy="1153.2" r="15.2"/>
<circle cx="1694.7" cy="1153.3" r="15.2"/>
<circle cx="1700.1" cy="1153.5" r="15.2"/>
<circle cx="1705.5" cy="1153.7" r="15.2"/>
<circle cx="1710.9" cy="1153.8" r="15.2"/>
<circle cx="1716.3" cy="1153.7" r="15.2"/>
<circle cx="1721.7" cy="1153.7" r="15.2"/>
<circle cx="1727.1" cy="1153.6" r="15.2"/>
<circle cx="1732.5" cy="1153.5" r="15.2"/>
<circle cx="1737.9" cy="1153.4" r="15.2"/>
<circle cx="1742.0" cy="1154.0" r="15.2"/>
<circle cx="1747.4" cy="1154.5" r="15.2"/>
<circle cx="1752.8" cy="1155.8" r="15.2"/>
<circle cx="1758.2" cy="1157.2" r="15.2"/>
<circle cx="1763.6" cy="1158.8" r="15.2"/>
<circle cx="1769.0" cy="1160.4" r="15.2"/>
<circle cx="1774.4" cy="1162.0" r="15.2"/>
<circle cx="1776.3" cy="1162.4" r="15.2"/>
</g>
<g id="s-blue" fill="#3000ff">
<path d="M298.7 118.8h5.0L318.9 148.8H283.4Z"/>
<path d="M314.9 126.3h5.0L335.1 156.3H299.6Z"/>
<path d="M331.0 115.7h5.0L351.3 145.7H315.8Z"/>
<path d="M347.2 118.8h5.0L367.4 148.8H331.9Z"/>
<path d="M363.4 122.5h5.0L383.6 152.5H348.1Z"/>
<path d="M379.5 118.3h5.0L399.8 148.3H364.3Z"/>
<path d="M395.7 122.5h5.0L415.9 152.5H380.4Z"/>
<path d="M411.9 122.3h5.0L432.1 152.3H396.6Z"/>
<path d="M428.0 123.8h5.0L448.3 153.8H412.8Z"/>
<path d="M444.2 123.8h5.0L464.4 153.8H428.9Z"/>
<path d="M460.3 123.8h5.0L480.6 153.8H445.1Z"/>
<path d="M476.5 131.9h5.0L496.8 161.9H461.3Z"/>
<path d="M492.7 141.5h5.0L512.9 171.5H477.4Z"/>
<path d="M508.8 149.4h5.0L529.1 179.4H493.6Z"/>
<path d="M525.0 164.7h5.0L545.3 194.7H509.8Z"/>
<path d="M541.2 180.9h5.0L561.4 210.9H525.9Z"/>
<path d="M557.3 186.5h5.0L577.6 216.5H542.1Z"/>
<path d="M573.5 196.0h5.0L593.8 226.0H558.3Z"/>
<path d="M589.7 211.0h5.0L609.9 241.0H574.4Z"/>
<path d="M605.8 221.9h5.0L626.1 251.9H590.6Z"/>
<path d="M622.0 240.7h5.0L642.2 270.7H606.8Z"/>
<path d="M638.2 255.0h5.0L658.4 285.0H622.9Z"/>
<path d="M654.3 271.0h5.0L674.6 301.0H639.1Z"/>
<path d="M670.5 287.2h5.0L690.7 317.2H655.2Z"/>
<path d="M686.7 303.7h5.0L706.9 333.7H671.4Z"/>
<path d="M702.8 327.5h5.0L723.1 357.5H687.6Z"/>
<path d="M719.0 361.0h5.0L739.2 391.0H703.7Z"/>
<path d="M735.2 381.8h5.0L755.4 411.8H719.9Z"/>
<path d="M751.3 414.2h5.0L771.6 444.2H736.1Z"/>
<path d="M767.5 450.7h5.0L787.7 480.7H752.2Z"/>
<path d="M783.6 470.9h5.0L803.9 500.9H768.4Z"/>
<path d="M799.8 504.9h5.0L820.1 534.9H784.6Z"/>
<path d="M816.0 537.6h5.0L836.2 567.6H800.7Z"/>
<path d="M832.1 564.6h5.0L852.4 594.6H816.9Z"/>
<path d="M848.3 586.5h5.0L868.6 616.5H833.1Z"/>
<path d="M864.5 613.4h5.0L884.7 643.4H849.2Z"/>
<path d="M880.6 647.0h5.0L900.9 677.0H865.4Z"/>
<path d="M896.8 682.2h5.0L917.1 712.2H881.6Z"/>
<path d="M913.0 697.3h5.0L933.2 727.3H897.7Z"/>
<path d="M929.1 727.9h5.0L949.4 757.9H913.9Z"/>
<path d="M945.3 747.0h5.0L965.5 777.0H930.0Z"/>
<path d="M961.5 771.4h5.0L981.7 801.4H946.2Z"/>
<path d="M977.6 793.4h5.0L997.9 823.4H962.4Z"/>
<path d="M993.8 819.8h5.0L1014.0 849.8H978.5Z"/>
<path d="M1010.0 831.9h5.0L1030.2 861.9H994.7Z"/>
<path d="M1026.1 855.7h5.0L1046.4 885.7H1010.9Z"/>
<path d="M1042.3 882.9h5.0L1062.5 912.9H1027.0Z"/>
<path d="M1058.5 902.2h5.0L1078.7 932.2H1043.2Z"/>
<path d="M1074.6 921.5h5.0L1094.9 951.5H1059.4Z"/>
<path d="M1090.8 940.2h5.0L1111.0 970.2H1075.5Z"/>
<path d="M1107.0 956.4h5.0L1127.2 986.4H1091.7Z"/>
<path d="M1123.1 970.0h5.0L1143.4 1000.0H1107.9Z"/>
<path d="M1139.3 979.1h5.0L1159.5 1009.1H1124.0Z"/>
<path d="M1155.4 987.3h5.0L1175.7 1017.3H1140.2Z"/>
<path d="M1171.6 994.9h5.0L1191.9 1024.9H1156.4Z"/>
<path d="M1187.8 1007.9h5.0L1208.0 1037.9H1172.5Z"/>
<path d="M1203.9 1014.7h5.0L1224.2 1044.7H1188.7Z"/>
<path d="M1220.1 1021.6h5.0L1240.4 1051.6H1204.9Z"/>
<path d="M1236.3 1027.2h5.0L1256.5 1057.2H1221.0Z"/>
<path d="M1252.4 1032.2h5.0L1272.7 1062.2H1237.2Z"/>
<path d="M1268.6 1037.3h5.0L1288.8 1067.3H1253.3Z"/>
<path d="M1284.8 1042.1h5.0L1305.0 1072.1H1269.5Z"/>
<path d="M1300.9 1045.6h5.0L1321.2 1075.6H1285.7Z"/>
<path d="M1317.1 1050.0h5.0L1337.3 1080.0H1301.8Z"/>
<path d="M1333.3 1050.5h5.0L1353.5 1080.5H1318.0Z"/>
<path d="M1349.4 1055.3h5.0L1369.7 1085.3H1334.2Z"/>
<path d="M1365.6 1058.1h5.0L1385.8 1088.1H1350.3Z"/>
<path d="M1381.8 1060.9h5.0L1402.0 1090.9H1366.5Z"/>
<path d="M1397.9 1063.4h5.0L1418.2 1093.4H1382.7Z"/>
<path d="M1414.1 1061.8h5.0L1434.3 1091.8H1398.8Z"/>
<path d="M1430.2 1061.8h5.0L1450.5 1091.8H1415.0Z"/>
<path d="M1446.4 1064.8h5.0L1466.7 1094.8H1431.2Z"/>
<path d="M1462.6 1064.3h5.0L1482.8 1094.3H1447.3Z"/>
<path d="M1478.7 1066.0h5.0L1499.0 1096.0H1463.5Z"/>
<path d="M1494.9 1067.7h5.0L1515.2 1097.7H1479.7Z"/>
<path d="M1511.1 1071.7h5.0L1531.3 1101.7H1495.8Z"/>
<path d="M1527.2 1069.9h5.0L1547.5 1099.9H1512.0Z"/>
<path d="M1543.4 1069.9h5.0L1563.7 1099.9H1528.2Z"/>
<path d="M1559.6 1074.2h5.0L1579.8 1104.2H1544.3Z"/>
<path d="M1575.7 1074.2h5.0L1596.0 1104.2H1560.5Z"/>
<path d="M1591.9 1074.2h5.0L1612.1 1104.2H1576.6Z"/>
<path d="M1608.1 1074.2h5.0L1628.3 1104.2H1592.8Z"/>
<path d="M1624.2 1074.2h5.0L1644.5 1104.2H1609.0Z"/>
<path d="M1640.4 1072.3h5.0L1660.6 1102.3H1625.1Z"/>
<path d="M1656.6 1075.6h5.0L1676.8 1105.6H1641.3Z"/>
<path d="M1672.7 1075.0h5.0L1693.0 1105.0H1657.5Z"/>
<path d="M1688.9 1079.9h5.0L1709.1 1109.9H1673.6Z"/>
<path d="M1705.1 1078.0h5.0L1725.3 1108.0H1689.8Z"/>
<path d="M1721.2 1079.8h5.0L1741.5 1109.8H1706.0Z"/>
<path d="M1737.4 1079.8h5.0L1757.6 1109.8H1722.1Z"/>
<path d="M1753.5 1079.8h5.0L1773.8 1109.8H1738.3Z"/>
<path d="M1769.7 1079.8h5.0L1790.0 1109.8H1754.5Z"/>
<path d="M1785.9 1082.5h5.0L1806.1 1112.5H1770.6Z"/>
<path d="M1802.0 1082.4h5.0L1822.3 1112.4H1786.8Z"/>
<path d="M1818.2 1082.4h5.0L1838.5 1112.4H1803.0Z"/>
<path d="M1834.4 1082.4h5.0L1854.6 1112.4H1819.1Z"/>
<path d="M1850.5 1085.0h5.0L1870.8 1115.0H1835.3Z"/>
<path d="M1866.7 1084.9h5.0L1887.0 1114.9H1851.5Z"/>
<path d="M1882.9 1087.8h5.0L1903.1 1117.8H1867.6Z"/>
<path d="M1899.0 1084.9h5.0L1919.3 1114.9H1883.8Z"/>
<path d="M1915.2 1084.9h5.0L1935.5 1114.9H1900.0Z"/>
</g>
</g>
<g id="ylabels" class="tk" text-anchor="end">
<text transform="translate(274.4 1222.7) scale(1.015 1)">0.0</text>
<text transform="translate(274.4 1008.4) scale(1.015 1)">0.2</text>
<text transform="translate(274.4 794.1) scale(1.015 1)">0.4</text>
<text transform="translate(274.4 579.8) scale(1.015 1)">0.6</text>
<text transform="translate(274.4 365.5) scale(1.015 1)">0.8</text>
<text transform="translate(274.4 151.2) scale(1.015 1)">1.0</text>
</g>
<g id="xlabels" class="tk" text-anchor="middle">
<text transform="translate(301.8 1273.1) scale(1.015 1)">0</text>
<text transform="translate(624.7 1273.1) scale(1.015 1)">100</text>
<text transform="translate(947.7 1273.1) scale(1.015 1)">200</text>
<text transform="translate(1270.6 1273.1) scale(1.015 1)">300</text>
<text transform="translate(1593.6 1273.1) scale(1.015 1)">400</text>
<text transform="translate(1916.5 1273.1) scale(1.015 1)">500</text>
</g>
<text class="ax" transform="translate(1001.1 1376.5) scale(0.985 1)">Time(s)</text>
<text class="ax" transform="translate(100.2 1073.2) rotate(-90) scale(0.9655 1)">Residual Weight(%)</text>
<g id="legend">
<path d="M1433.9 163.4H1475M1521 163.4H1564.9" stroke="#000" stroke-width="3" fill="none"/>
<rect x="1486" y="151.2" width="27" height="27" fill="#000"/>
<path d="M1433.9 236.9H1475M1521 236.9H1564.9" stroke="#ff2126" stroke-width="3" fill="none"/>
<circle cx="1498.2" cy="237" r="15" fill="#ff2126"/>
<path d="M1433.9 307.7H1475M1521 307.7H1564.9" stroke="#3000ff" stroke-width="3" fill="none"/>
<path d="M1495.7 290.1h5L1515.9 319.8H1480.4Z" fill="#3000ff"/>
<text class="lg" transform="translate(1579.3 183.9) scale(0.945 1)">PLA</text>
<text class="lg" transform="translate(1579.3 257) scale(0.945 1)">PSQ-PLA</text>
<text class="lg" transform="translate(1579.3 327.9) scale(0.945 1)">P<tspan font-size="32px" dx="1" dy="21">5</tspan><tspan dx="3" dy="-21">PSQ-PLA</tspan></text>
</g>
</svg>
</body></html>
